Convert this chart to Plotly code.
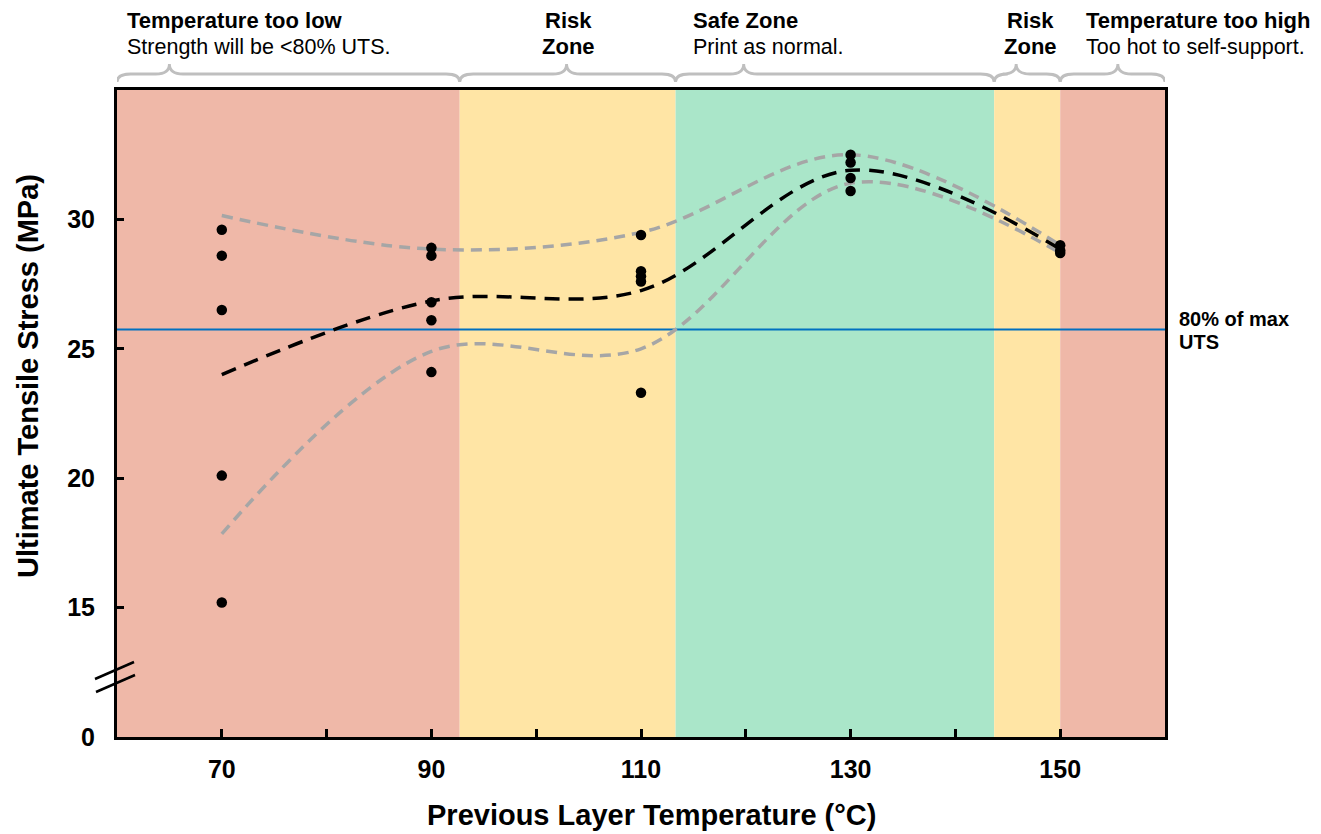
import plotly.graph_objects as go

# ---------------- data ----------------
temps = [70, 90, 110, 130, 150]
pt_x = [70, 70, 70, 70, 70,
        90, 90, 90, 90, 90,
        110, 110, 110, 110, 110,
        130, 130, 130, 130,
        150, 150, 150]
pt_y = [29.6, 28.6, 26.5, 20.1, 15.2,
        28.9, 28.6, 26.8, 26.1, 24.1,
        29.4, 28.0, 27.8, 27.6, 23.3,
        32.5, 32.2, 31.6, 31.1,
        29.0, 28.8, 28.7]
mean_uts = [24.0, 26.85, 27.25, 31.9, 28.85]
upper_uts = [30.15, 28.85, 29.5, 32.5, 29.0]
lower_uts = [17.85, 24.9, 25.0, 31.4, 28.7]
threshold = 25.75  # 80% of max UTS

x_range = [60, 160]
y_range = [10, 35]
x_tickvals = [70, 80, 90, 100, 110, 120, 130, 140, 150]
x_ticktext = ["70", "", "90", "", "110", "", "130", "", "150"]
y_tickvals = [10, 15, 20, 25, 30]
y_ticktext = ["0", "15", "20", "25", "30"]

zone_edges = [60, 92.7, 113.3, 143.7, 150, 160]
zone_colors = ["#EFB8A8", "#FFE5A5", "#AAE6C9", "#FFE5A5", "#EFB8A8"]
brace_peaks = [65.0, 102.9, 119.8, 145.8, 155.5]

FONT = "Liberation Sans, Arial, sans-serif"

fig = go.Figure()

# threshold line
fig.add_trace(go.Scatter(x=x_range, y=[threshold, threshold], mode="lines",
                         line=dict(color="#0070C0", width=2), hoverinfo="skip",
                         showlegend=False))
# bounds
for ys in (upper_uts, lower_uts):
    fig.add_trace(go.Scatter(x=temps, y=ys, mode="lines",
                             line=dict(color="#A6A6A6", width=3.5, dash="11px,7px",
                                       shape="spline", smoothing=1.0),
                             showlegend=False))
fig.add_trace(go.Scatter(x=temps, y=mean_uts, mode="lines",
                         line=dict(color="black", width=3.5, dash="15px,9px",
                                   shape="spline", smoothing=1.0),
                         showlegend=False))
fig.add_trace(go.Scatter(x=pt_x, y=pt_y, mode="markers",
                         marker=dict(color="black", size=10.5), showlegend=False))

shapes = []
for i in range(len(zone_colors)):
    shapes.append(dict(type="rect", xref="x", yref="paper",
                       x0=zone_edges[i], x1=zone_edges[i + 1], y0=0, y1=1,
                       fillcolor=zone_colors[i], line=dict(width=0), layer="below"))

# screen-pixel geometry of the plot area (page has an 8px body margin)
OFF = 8
L, R = 117, 1165
PLOT_TOP, PLOT_BOT = 90, 737
W = R - L
H = PLOT_BOT - PLOT_TOP
FIG_W, FIG_H = 1321 - OFF, 834 - OFF

def py(p):
    return (PLOT_BOT - p) / H

def px(p):
    return (p - L) / W

# braces above zones
yE, yM, yP = py(82), py(74), py(64)
r = 1.3
for i, pk in enumerate(brace_peaks):
    x0, x1 = zone_edges[i], zone_edges[i + 1]
    path = (f"M {x0},{yE} Q {x0},{yM} {x0 + r},{yM} L {pk - r},{yM} "
            f"Q {pk},{yM} {pk},{yP} Q {pk},{yM} {pk + r},{yM} "
            f"L {x1 - r},{yM} Q {x1},{yM} {x1},{yE}")
    shapes.append(dict(type="path", xref="x", yref="paper", path=path,
                       line=dict(color="#BFBFBF", width=2.8), layer="above"))

# axis break marks
for (a, b, c, d) in [(95, 679, 134, 662), (96, 692, 135, 675)]:
    shapes.append(dict(type="line", xref="paper", yref="paper",
                       x0=px(a), y0=py(b), x1=px(c), y1=py(d),
                       line=dict(color="black", width=2.5), layer="above"))

ann = []
def add_text(text, x, y, anchor="left", size=21, angle=0):
    ann.append(dict(text=text, xref="paper", yref="paper", x=px(x), y=py(y),
                    xanchor=anchor, yanchor="middle", showarrow=False,
                    textangle=angle,
                    font=dict(family=FONT, size=size, color="black")))

add_text("<b>Temperature too low</b>", 125, 21, size=22)
add_text("Strength will be &lt;80% UTS.", 125, 47, size=21.5)
add_text("<b>Risk</b>", 568, 21, "center", size=22)
add_text("<b>Zone</b>", 568, 47, "center", size=22)
add_text("<b>Safe Zone</b>", 691, 21, size=22)
add_text("Print as normal.", 691, 47, size=21.5)
add_text("<b>Risk</b>", 1030, 21, "center", size=22)
add_text("<b>Zone</b>", 1030, 47, "center", size=22)
add_text("<b>Temperature too high</b>", 1084, 21, size=22)
add_text("Too hot to self-support.", 1084, 47, size=21.5)
add_text("<b>80% of max</b>", 1177, 319, size=20)
add_text("<b>UTS</b>", 1177, 342, size=20)
# axis titles
add_text("<b>Previous Layer Temperature (°C)</b>", 651, 815, "center", size=29)
add_text("<b>Ultimate Tensile Stress (MPa)</b>", 28, 376, "center", size=29, angle=-90)

fig.update_layout(
    width=FIG_W, height=FIG_H,
    margin=dict(l=L - OFF, r=FIG_W + OFF - R, t=PLOT_TOP - OFF,
                b=FIG_H + OFF - PLOT_BOT),
    paper_bgcolor="white", plot_bgcolor="white",
    font=dict(family=FONT, color="black"),
    shapes=shapes, annotations=ann, showlegend=False,
    xaxis=dict(range=x_range, tickvals=x_tickvals, ticktext=x_ticktext,
               ticks="inside", ticklen=8, tickwidth=2.5, tickcolor="black",
               ticklabelstandoff=8,
               showgrid=False, zeroline=False, showline=True, linecolor="black",
               linewidth=3, mirror=True,
               tickfont=dict(family=FONT, size=25, color="black", weight="bold")),
    yaxis=dict(range=y_range, tickvals=y_tickvals, ticktext=y_ticktext,
               ticks="inside", ticklen=7, tickwidth=2.5, tickcolor="black",
               ticklabelstandoff=14,
               showgrid=False, zeroline=False, showline=True, linecolor="black",
               linewidth=3, mirror=True,
               tickfont=dict(family=FONT, size=25, color="black", weight="bold")),
)

fig.write_html("out.html")
